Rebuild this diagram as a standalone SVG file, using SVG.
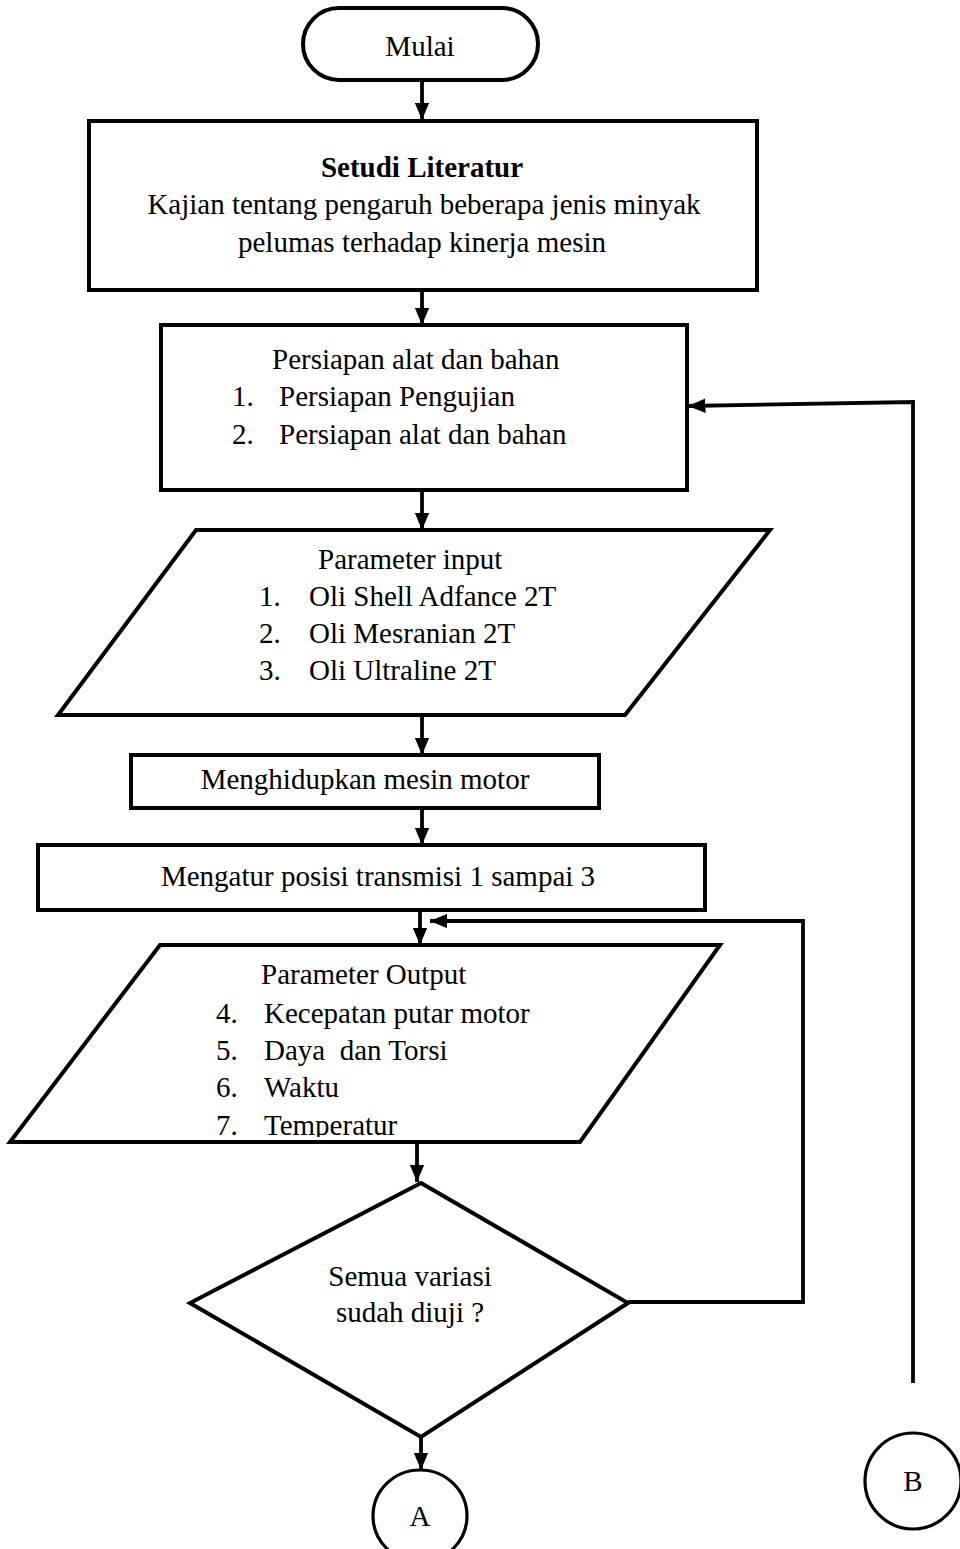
<svg xmlns="http://www.w3.org/2000/svg" width="960" height="1549" viewBox="0 0 960 1549">
  <style>
    .shape { fill: #ffffff; stroke: #000000; stroke-width: 4; }
    .thin { fill: #ffffff; stroke: #000000; stroke-width: 3.2; }
    .edge { fill: none; stroke: #000000; stroke-width: 3.8; }
    .t { font-family: "Liberation Serif", "Times New Roman", serif; font-size: 29px; fill: #000000; }
    .c { text-anchor: middle; }
    .b { font-weight: bold; }
  </style>
  <defs>
    <marker id="arrow" viewBox="0 0 12 10" refX="12" refY="5" markerWidth="4.6" markerHeight="3.9" markerUnits="strokeWidth" orient="auto">
      <path d="M0,0 L12,5 L0,10 z" fill="#000000"/>
    </marker>
    <clipPath id="outClip">
      <rect x="0" y="940" width="960" height="197"/>
    </clipPath>
  </defs>

  <!-- connectors -->
  <g id="connectors">
    <line class="edge" x1="422" y1="80" x2="422" y2="120" marker-end="url(#arrow)"/>
    <line class="edge" x1="422" y1="290" x2="422" y2="325" marker-end="url(#arrow)"/>
    <line class="edge" x1="422" y1="490" x2="422" y2="530" marker-end="url(#arrow)"/>
    <line class="edge" x1="422" y1="715" x2="422" y2="755" marker-end="url(#arrow)"/>
    <line class="edge" x1="422" y1="808" x2="422" y2="845" marker-end="url(#arrow)"/>
    <line class="edge" x1="420" y1="910" x2="420" y2="945" marker-end="url(#arrow)"/>
    <line class="edge" x1="417" y1="1142" x2="417" y2="1182" marker-end="url(#arrow)"/>
    <line class="edge" x1="421" y1="1437" x2="421" y2="1470" marker-end="url(#arrow)"/>
    <!-- loop back: not all variations tested -->
    <polyline class="edge" points="628,1302 803,1302 803,921 430,921" marker-end="url(#arrow)"/>
    <!-- connector B back to preparation -->
    <polyline class="edge" points="913,1383 913,402 688,406" marker-end="url(#arrow)"/>
  </g>

  <g id="mulai">
    <rect class="shape" x="303" y="8" width="235" height="72" rx="36" ry="36"/>
    <text class="t c" x="420" y="56">Mulai</text>
  </g>

  <g id="studi-literatur">
    <rect class="shape" x="89" y="121" width="668" height="169"/>
    <text class="t c b" x="422" y="177">Setudi Literatur</text>
    <text class="t c" x="424" y="214">Kajian tentang pengaruh beberapa jenis minyak</text>
    <text class="t c" x="422" y="252">pelumas terhadap kinerja mesin</text>
  </g>

  <g id="persiapan">
    <rect class="shape" x="161" y="325" width="526" height="165"/>
    <text class="t" x="272" y="369">Persiapan alat dan bahan</text>
    <text class="t" x="232" y="406">1.</text>
    <text class="t" x="279" y="406">Persiapan Pengujian</text>
    <text class="t" x="232" y="444">2.</text>
    <text class="t" x="279" y="444">Persiapan alat dan bahan</text>
  </g>

  <g id="parameter-input">
    <polygon class="shape" points="196,530 770,530 625,715 58,715"/>
    <text class="t" x="318" y="569">Parameter input</text>
    <text class="t" x="259" y="606">1.</text>
    <text class="t" x="309" y="606">Oli Shell Adfance 2T</text>
    <text class="t" x="259" y="643">2.</text>
    <text class="t" x="309" y="643">Oli Mesranian 2T</text>
    <text class="t" x="259" y="680">3.</text>
    <text class="t" x="309" y="680">Oli Ultraline 2T</text>
  </g>

  <g id="menghidupkan">
    <rect class="shape" x="131" y="755" width="468" height="53"/>
    <text class="t c" x="365" y="789">Menghidupkan mesin motor</text>
  </g>

  <g id="mengatur">
    <rect class="shape" x="38" y="845" width="667" height="65"/>
    <text class="t c" x="378" y="886">Mengatur posisi transmisi 1 sampai 3</text>
  </g>

  <g id="parameter-output">
    <polygon class="shape" points="160,945 720,945 580,1142 10,1142"/>
    <g clip-path="url(#outClip)">
      <text class="t" x="261" y="984">Parameter Output</text>
      <text class="t" x="216" y="1023">4.</text>
      <text class="t" x="264" y="1023">Kecepatan putar motor</text>
      <text class="t" x="216" y="1060">5.</text>
      <text class="t" x="264" y="1060" xml:space="preserve">Daya  dan Torsi</text>
      <text class="t" x="216" y="1097">6.</text>
      <text class="t" x="264" y="1097">Waktu</text>
      <text class="t" x="216" y="1135">7.</text>
      <text class="t" x="264" y="1135">Temperatur</text>
    </g>
  </g>

  <g id="keputusan">
    <polygon class="shape" points="421,1183 628,1303 421,1437 190,1303"/>
    <text class="t c" x="410" y="1286">Semua variasi</text>
    <text class="t c" x="410" y="1322">sudah diuji ?</text>
  </g>

  <g id="konektor-a">
    <ellipse class="thin" cx="420" cy="1516" rx="47" ry="46"/>
    <text class="t c" x="420" y="1526">A</text>
  </g>

  <g id="konektor-b">
    <circle class="thin" cx="913" cy="1481" r="48"/>
    <text class="t c" x="913" y="1491">B</text>
  </g>
</svg>
